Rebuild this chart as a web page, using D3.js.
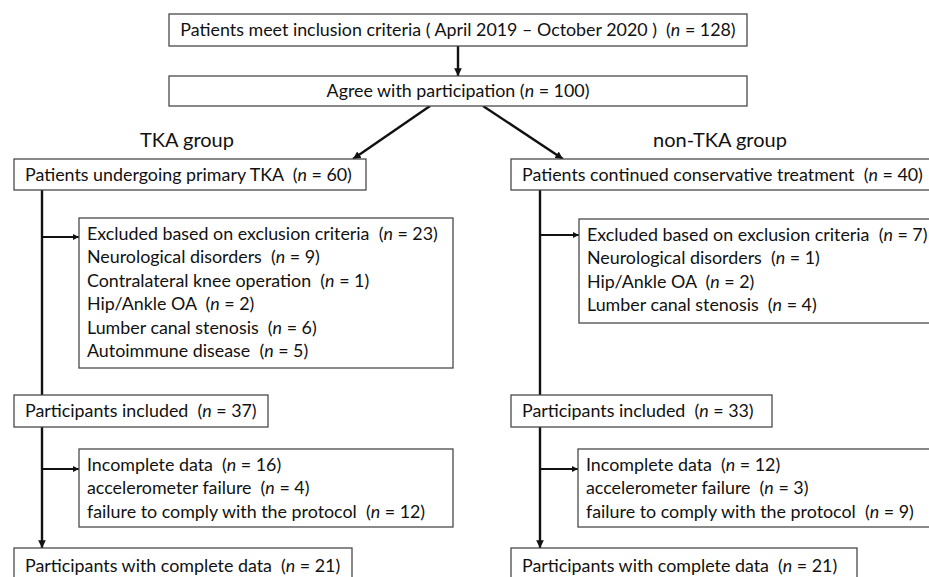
<!DOCTYPE html>
<html>
<head>
<meta charset="utf-8">
<script src="https://cdn.jsdelivr.net/npm/d3@7"></script>
<style>
  body { margin: 0; background: #fff; }
  svg { display: block; }
  .box { fill: #fff; stroke: #4a4a4a; stroke-width: 1.3; }
  .flow { stroke: #111; stroke-width: 2.4; fill: none; }
  .branch { stroke: #111; stroke-width: 2; fill: none; }
  text { font-family: Lato, "Open Sans", sans-serif; fill: #111; white-space: pre; }
</style>
</head>
<body>
<svg id="chart" width="929" height="577"></svg>
<script>
// Flow diagram, TKA vs non-TKA cohorts

// ---- texts (the "data") ----
var screening   = ["Patients meet inclusion criteria ( April 2019 \u2013 October 2020 )  (n = 128)"]
  , agreed      = ["Agree with participation (n = 100)"]
  , groupLabels = ["TKA group", "non-TKA group"]
  , allocation  = [["Patients undergoing primary TKA  (n = 60)"],
                   ["Patients continued conservative treatment  (n = 40)"]]
  , excluded    = [["Excluded based on exclusion criteria  (n = 23)",
                    "Neurological disorders  (n = 9)",
                    "Contralateral knee operation  (n = 1)",
                    "Hip/Ankle OA  (n = 2)",
                    "Lumber canal stenosis  (n = 6)",
                    "Autoimmune disease  (n = 5)"],
                   ["Excluded based on exclusion criteria  (n = 7)",
                    "Neurological disorders  (n = 1)",
                    "Hip/Ankle OA  (n = 2)",
                    "Lumber canal stenosis  (n = 4)"]]
  , included    = [["Participants included  (n = 37)"],
                   ["Participants included  (n = 33)"]]
  , incomplete  = [["Incomplete data  (n = 16)",
                    "accelerometer failure  (n = 4)",
                    "failure to comply with the protocol  (n = 12)"],
                   ["Incomplete data  (n = 12)",
                    "accelerometer failure  (n = 3)",
                    "failure to comply with the protocol  (n = 9)"]]
  , complete    = [["Participants with complete data  (n = 21)"],
                   ["Participants with complete data  (n = 21)"]]
  ;

// ---- layout (pixels) ----
var width = 929, height = 577
  , lineH = 23.4
  , pad = 11
  , spineX = [42, 540]          // vertical trunk of each column
  , colX = [14, 511]            // left edge of main boxes
  , sideX = [79, 578]           // left edge of side (exclusion) boxes
  ;

var layout = {
  screening:  { x: 169, y: 14,  w: 578, h: 32, center: true },
  agreed:     { x: 169, y: 76,  w: 578, h: 30, center: true },
  allocation: [{ x: colX[0], y: 159, w: 352, h: 31 }, { x: colX[1], y: 159, w: 430, h: 31 }],
  excluded:   [{ x: sideX[0], y: 218, w: 374, h: 150 }, { x: sideX[1] + 1, y: 219, w: 360, h: 104 }],
  included:   [{ x: colX[0], y: 395, w: 254, h: 32 }, { x: colX[1], y: 395, w: 261, h: 32 }],
  incomplete: [{ x: sideX[0], y: 449, w: 374, h: 78 }, { x: sideX[1], y: 449, w: 360, h: 78 }],
  complete:   [{ x: colX[0], y: 548, w: 338, h: 40 }, { x: colX[1], y: 548, w: 346, h: 40 }]
};

var svg = d3.select("#chart");

svg.append("defs").append("marker")
   .attr("id", "head")
   .attr("viewBox", "0 0 10 10")
   .attr("refX", 10).attr("refY", 5)
   .attr("markerWidth", 3.2).attr("markerHeight", 3.2)
   .attr("markerUnits", "strokeWidth")
   .attr("orient", "auto")
   .append("path")
   .attr("d", "M0,0 L10,5 L0,10 z")
   .attr("fill", "#111");

// Fit the font size so the widest line matches the picture
var probe = svg.append("text").attr("font-size", 18).text(screening[0]);
var fontSize = 18 * 556 / probe.node().getComputedTextLength();
probe.remove();

// Write a line, with the "n" in italics
function writeLine (sel, str) {
  var parts = str.split(/\((n) = /);
  sel.append("tspan").text(parts[0] + (parts.length > 1 ? "(" : ""));
  if (parts.length > 1) {
    sel.append("tspan").attr("font-style", "italic").text("n");
    sel.append("tspan").text(" = " + parts[2]);
  }
}

function drawBox (lines, b) {
  svg.append("rect").attr("class", "box")
     .attr("x", b.x).attr("y", b.y).attr("width", b.w).attr("height", b.h);
  var first = lines.length === 1 ? b.y + b.h / 2 + fontSize * 0.36 : b.y + 22;
  if (b.h > 35 && lines.length === 1) { first = b.y + 24; }
  lines.forEach(function (l, i) {
    var t = svg.append("text")
               .attr("font-size", fontSize)
               .attr("x", b.center ? b.x + b.w / 2 : b.x + pad + (lines.length > 1 ? -3 : 0))
               .attr("y", first + i * lineH)
               .attr("text-anchor", b.center ? "middle" : "start");
    writeLine(t, l);
  });
}

function arrow (x1, y1, x2, y2, cls, head) {
  svg.append("line").attr("class", cls)
     .attr("x1", x1).attr("y1", y1).attr("x2", x2).attr("y2", y2)
     .attr("marker-end", head ? "url(#head)" : null);
}

// Top part
arrow(458, 46, 458, 76, "flow", true);
arrow(430, 106, 353, 159, "flow", true);
arrow(483, 106, 563, 159, "flow", true);

drawBox(screening, layout.screening);
drawBox(agreed, layout.agreed);

svg.selectAll(".group")
   .data(groupLabels)
   .enter().append("text")
   .attr("class", "group")
   .attr("font-size", fontSize * 1.12)
   .attr("text-anchor", "middle")
   .attr("x", function (d, i) { return [187, 720][i]; })
   .attr("y", 147)
   .text(function (d) { return d; });

// Two columns
[0, 1].forEach(function (c) {
  var sx = spineX[c];
  arrow(sx, 190, sx, 395, "flow", false);
  arrow(sx, 427, sx, 548, "flow", true);
  arrow(sx, c === 0 ? 237 : 235, layout.excluded[c].x, c === 0 ? 237 : 235, "branch", true);
  arrow(sx, 469, layout.incomplete[c].x, 469, "branch", true);

  drawBox(allocation[c], layout.allocation[c]);
  drawBox(excluded[c], layout.excluded[c]);
  drawBox(included[c], layout.included[c]);
  drawBox(incomplete[c], layout.incomplete[c]);
  drawBox(complete[c], layout.complete[c]);
});
</script>
</body>
</html>
